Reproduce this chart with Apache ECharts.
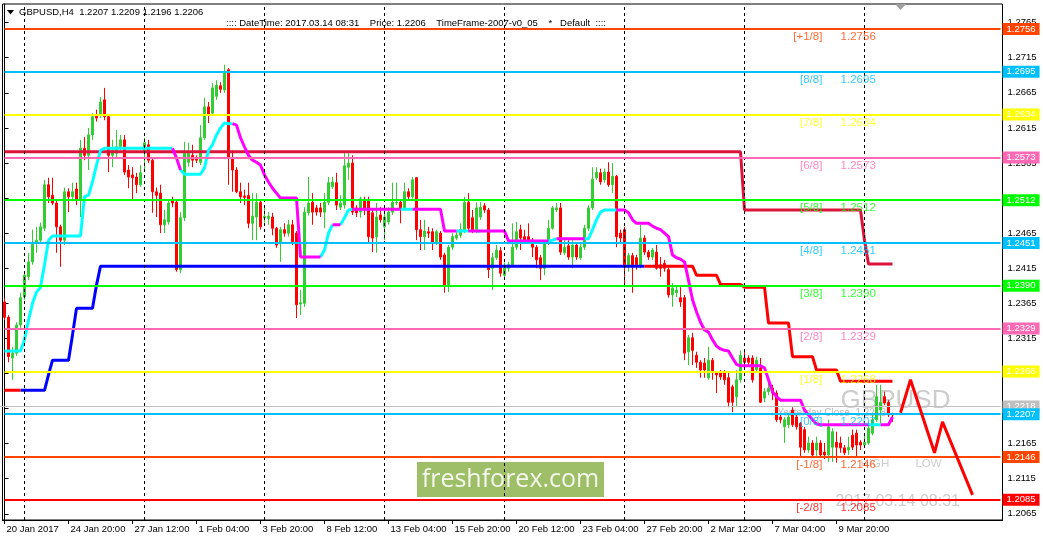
<!DOCTYPE html>
<html><head><meta charset="utf-8">
<script src="https://cdn.jsdelivr.net/npm/echarts@6/dist/echarts.min.js"></script>
<style>html,body{margin:0;padding:0;background:#fff}#c{width:1043px;height:542px}</style>
</head><body><div id="c"></div>
<script>
// ---------- candles (H4, from 20 Jan 2017 04:00) ----------
const opens=[1.2367,1.2345,1.2287,1.2294,1.2334,1.2374,1.2403,1.2424,1.2451,1.2455,
1.2472,1.2534,1.2519,1.2508,1.2474,1.2455,1.2524,1.2517,1.2528,1.2512,
1.2586,1.2576,1.2605,1.2633,1.2633,1.2655,1.2631,1.2576,1.2579,1.2588,
1.2598,1.2555,1.2548,1.2545,1.2534,1.2581,1.2591,1.2569,1.2524,1.2522,
1.2477,1.2481,1.2512,1.2509,1.2413,1.2487,1.2566,1.2576,1.2573,1.2566,
1.2601,1.2645,1.2636,1.2660,1.2675,1.2669,1.2698,1.2572,1.2555,1.2524,
1.2518,1.2519,1.2479,1.2488,1.2509,1.2487,1.2486,1.2488,1.2472,1.2451,
1.2470,1.2465,1.2477,1.2465,1.2364,1.2365,1.2494,1.2509,1.2501,1.2501,
1.2495,1.2509,1.2531,1.2537,1.2502,1.2505,1.2559,1.2565,1.2501,1.2495,
1.2512,1.2512,1.2494,1.2460,1.2491,1.2474,1.2481,1.2495,1.2508,1.2509,
1.2501,1.2524,1.2517,1.2544,1.2470,1.2460,1.2467,1.2467,1.2452,1.2465,
1.2434,1.2391,1.2445,1.2458,1.2462,1.2470,1.2509,1.2487,1.2470,1.2488,
1.2504,1.2498,1.2415,1.2430,1.2440,1.2405,1.2415,1.2420,1.2445,1.2470,
1.2460,1.2460,1.2455,1.2445,1.2430,1.2415,1.2451,1.2472,1.2498,1.2501,
1.2437,1.2447,1.2431,1.2448,1.2430,1.2445,1.2472,1.2501,1.2544,1.2551,
1.2541,1.2552,1.2534,1.2546,1.2465,1.2470,1.2420,1.2433,1.2430,1.2420,
1.2458,1.2438,1.2431,1.2438,1.2420,1.2422,1.2413,1.2377,1.2380,1.2373,
1.2373,1.2296,1.2316,1.2291,1.2281,1.2280,1.2259,1.2284,1.2266,1.2266,
1.2266,1.2259,1.2246,1.2232,1.2256,1.2287,1.2287,1.2287,1.2270,1.2273,
1.2230,1.2239,1.2244,1.2237,1.2203,1.2189,1.2192,1.2213,1.2203,1.2194,
1.2185,1.2156,1.2166,1.2156,1.2166,1.2153,1.2149,1.2160,1.2167,1.2166,
1.2159,1.2156,1.2177,1.2180,1.2167,1.2163,1.2166,1.2180,1.2199,1.2213,
1.2232,1.2224,1.2207];
const closes=[1.2345,1.2289,1.2294,1.2334,1.2373,1.2405,1.2424,1.2451,1.2455,1.2474,
1.2534,1.2517,1.2508,1.2474,1.2455,1.2524,1.2517,1.2524,1.2512,1.2586,
1.2576,1.2605,1.2631,1.2629,1.2652,1.2631,1.2576,1.2583,1.2588,1.2598,
1.2552,1.2545,1.2544,1.2534,1.2551,1.2594,1.2569,1.2524,1.2519,1.2477,
1.2484,1.2508,1.2508,1.2413,1.2487,1.2579,1.2579,1.2569,1.2569,1.2601,
1.2645,1.2633,1.2672,1.2676,1.2670,1.2695,1.2572,1.2555,1.2524,1.2517,
1.2516,1.2479,1.2489,1.2509,1.2474,1.2489,1.2489,1.2472,1.2448,1.2470,
1.2465,1.2477,1.2451,1.2363,1.2366,1.2495,1.2508,1.2495,1.2495,1.2495,
1.2509,1.2537,1.2538,1.2505,1.2508,1.2561,1.2565,1.2495,1.2494,1.2514,
1.2498,1.2460,1.2458,1.2488,1.2484,1.2488,1.2495,1.2509,1.2509,1.2501,
1.2524,1.2517,1.2541,1.2470,1.2460,1.2468,1.2465,1.2452,1.2467,1.2431,
1.2391,1.2445,1.2460,1.2462,1.2470,1.2509,1.2472,1.2470,1.2501,1.2502,
1.2498,1.2413,1.2430,1.2441,1.2408,1.2415,1.2420,1.2445,1.2467,1.2458,
1.2455,1.2455,1.2445,1.2427,1.2415,1.2451,1.2472,1.2501,1.2501,1.2438,
1.2445,1.2431,1.2448,1.2431,1.2445,1.2472,1.2501,1.2542,1.2552,1.2538,
1.2552,1.2534,1.2546,1.2460,1.2458,1.2420,1.2433,1.2420,1.2420,1.2458,
1.2438,1.2431,1.2441,1.2415,1.2415,1.2415,1.2377,1.2387,1.2384,1.2367,
1.2294,1.2316,1.2298,1.2281,1.2270,1.2270,1.2284,1.2266,1.2263,1.2260,
1.2256,1.2224,1.2224,1.2256,1.2291,1.2281,1.2281,1.2256,1.2284,1.2224,
1.2239,1.2244,1.2237,1.2199,1.2199,1.2199,1.2203,1.2192,1.2189,1.2160,
1.2156,1.2166,1.2149,1.2166,1.2149,1.2149,1.2189,1.2182,1.2160,1.2159,
1.2152,1.2160,1.2160,1.2163,1.2163,1.2167,1.2187,1.2199,1.2232,1.2224,
1.2223,1.2206,1.2206];
const lows=[1.2341,1.2281,1.2256,1.2290,1.2330,1.2370,1.2398,1.2420,1.2437,1.2450,
1.2468,1.2508,1.2505,1.2437,1.2417,1.2448,1.2495,1.2512,1.2505,1.2488,
1.2569,1.2555,1.2598,1.2624,1.2629,1.2626,1.2552,1.2559,1.2572,1.2583,
1.2548,1.2529,1.2512,1.2522,1.2531,1.2555,1.2565,1.2494,1.2488,1.2465,
1.2465,1.2477,1.2502,1.2410,1.2408,1.2482,1.2560,1.2559,1.2565,1.2562,
1.2598,1.2622,1.2633,1.2655,1.2665,1.2665,1.2534,1.2524,1.2522,1.2508,
1.2505,1.2472,1.2455,1.2455,1.2470,1.2480,1.2477,1.2462,1.2444,1.2424,
1.2460,1.2460,1.2448,1.2344,1.2348,1.2360,1.2490,1.2477,1.2490,1.2488,
1.2472,1.2505,1.2528,1.2498,1.2498,1.2500,1.2541,1.2491,1.2488,1.2487,
1.2491,1.2451,1.2438,1.2437,1.2480,1.2455,1.2477,1.2491,1.2505,1.2479,
1.2498,1.2512,1.2514,1.2455,1.2441,1.2441,1.2458,1.2441,1.2448,1.2427,
1.2380,1.2381,1.2441,1.2455,1.2458,1.2465,1.2467,1.2465,1.2465,1.2484,
1.2494,1.2401,1.2384,1.2427,1.2403,1.2401,1.2410,1.2417,1.2441,1.2441,
1.2451,1.2451,1.2431,1.2415,1.2398,1.2405,1.2448,1.2470,1.2495,1.2434,
1.2434,1.2427,1.2415,1.2427,1.2427,1.2441,1.2468,1.2498,1.2541,1.2534,
1.2537,1.2531,1.2522,1.2445,1.2451,1.2388,1.2410,1.2380,1.2413,1.2415,
1.2434,1.2427,1.2427,1.2413,1.2403,1.2410,1.2373,1.2360,1.2374,1.2360,
1.2284,1.2277,1.2277,1.2273,1.2259,1.2259,1.2256,1.2256,1.2237,1.2256,
1.2249,1.2217,1.2210,1.2217,1.2252,1.2277,1.2277,1.2252,1.2266,1.2223,
1.2224,1.2234,1.2227,1.2196,1.2194,1.2166,1.2187,1.2189,1.2185,1.2145,
1.2152,1.2152,1.2145,1.2146,1.2145,1.2143,1.2139,1.2139,1.2138,1.2152,
1.2149,1.2149,1.2156,1.2146,1.2156,1.2160,1.2163,1.2177,1.2196,1.2194,
1.2220,1.2203,1.2196];
const highs=[1.2372,1.2348,1.2303,1.2338,1.2380,1.2410,1.2437,1.2470,1.2474,1.2480,
1.2541,1.2544,1.2544,1.2512,1.2477,1.2530,1.2529,1.2537,1.2537,1.2598,
1.2602,1.2615,1.2636,1.2641,1.2659,1.2672,1.2634,1.2598,1.2612,1.2605,
1.2605,1.2562,1.2559,1.2551,1.2562,1.2601,1.2598,1.2572,1.2530,1.2534,
1.2498,1.2512,1.2517,1.2512,1.2495,1.2595,1.2594,1.2591,1.2576,1.2619,
1.2658,1.2652,1.2679,1.2683,1.2680,1.2705,1.2700,1.2583,1.2559,1.2537,
1.2527,1.2537,1.2522,1.2522,1.2512,1.2502,1.2495,1.2494,1.2474,1.2474,
1.2479,1.2484,1.2484,1.2468,1.2384,1.2502,1.2545,1.2522,1.2505,1.2508,
1.2522,1.2545,1.2545,1.2551,1.2519,1.2579,1.2579,1.2576,1.2505,1.2517,
1.2517,1.2517,1.2498,1.2508,1.2502,1.2505,1.2502,1.2537,1.2537,1.2512,
1.2537,1.2529,1.2545,1.2545,1.2484,1.2484,1.2474,1.2472,1.2470,1.2468,
1.2437,1.2448,1.2465,1.2467,1.2479,1.2517,1.2522,1.2498,1.2509,1.2509,
1.2508,1.2501,1.2437,1.2448,1.2445,1.2423,1.2424,1.2479,1.2481,1.2477,
1.2470,1.2479,1.2458,1.2448,1.2434,1.2455,1.2484,1.2504,1.2508,1.2508,
1.2455,1.2455,1.2455,1.2452,1.2452,1.2477,1.2505,1.2559,1.2559,1.2557,
1.2557,1.2566,1.2565,1.2548,1.2470,1.2474,1.2437,1.2437,1.2434,1.2477,
1.2462,1.2441,1.2444,1.2448,1.2431,1.2427,1.2417,1.2394,1.2391,1.2388,
1.2377,1.2320,1.2323,1.2296,1.2284,1.2287,1.2303,1.2287,1.2267,1.2270,
1.2270,1.2266,1.2249,1.2270,1.2298,1.2296,1.2291,1.2291,1.2289,1.2287,
1.2244,1.2252,1.2249,1.2241,1.2206,1.2203,1.2206,1.2217,1.2206,1.2196,
1.2189,1.2175,1.2170,1.2175,1.2170,1.2166,1.2199,1.2187,1.2182,1.2175,
1.2163,1.2175,1.2185,1.2185,1.2170,1.2177,1.2196,1.2206,1.2249,1.2249,
1.2239,1.2227,1.2209];

// ---------- indicator lines, as runs [fromBar, toBar, price, colourFlag] ----------
// trend line: flag 1 = cyan (rising), 0 = magenta
const trendRuns=[[0,4,1.2297,1],[5,5,1.2313,1],[6,6,1.2341,1],[7,7,1.2365,1],[8,8,1.2381,1],[9,9,1.2388,1],
[10,10,1.2420,1],[11,11,1.2455,1],[12,19,1.2461,1],[20,20,1.2517,1],[21,21,1.2519,1],[22,22,1.2538,1],
[23,23,1.2562,1],[24,24,1.2583,1],[25,42,1.2586,1],[43,43,1.2572,0],[44,44,1.2555,0],[45,49,1.2549,1],
[50,50,1.2558,1],[51,51,1.2583,1],[52,52,1.2591,1],[53,53,1.2605,1],[54,54,1.2615,1],[55,55,1.2622,1],
[56,57,1.2621,1],[58,58,1.2619,0],[59,59,1.2601,0],[60,60,1.2588,0],[61,61,1.2576,0],[62,62,1.2569,0],
[63,63,1.2566,0],[64,64,1.2562,0],[65,65,1.2548,0],[66,66,1.2538,0],[67,67,1.2529,0],[68,68,1.2522,0],
[69,73,1.2515,0],[74,79,1.2431,0],[80,80,1.2441,1],[81,81,1.2465,1],[82,82,1.2477,1],[83,84,1.2477,0],
[85,85,1.2487,1],[86,86,1.2498,1],[87,87,1.2499,1],[88,99,1.2499,0],[100,102,1.2499,1],[103,109,1.2499,0],
[110,113,1.2468,0],[114,116,1.2468,1],[117,118,1.2468,0],[119,119,1.2468,1],[120,125,1.2468,0],
[126,136,1.2454,0],[137,137,1.2455,1],[138,138,1.2457,1],[139,145,1.2457,0],[146,146,1.2457,1],
[147,147,1.2470,1],[148,148,1.2484,1],[149,149,1.2495,1],[150,153,1.2498,1],[154,155,1.2498,0],
[156,156,1.2494,0],[157,157,1.2484,0],[158,161,1.2479,0],[162,162,1.2475,0],[163,163,1.2472,0],
[164,164,1.2470,0],[165,165,1.2465,0],[166,166,1.2460,0],[167,167,1.2434,0],[168,168,1.2430,0],
[169,169,1.2428,0],[170,170,1.2424,0],[171,171,1.2398,0],[172,172,1.2370,0],[173,173,1.2353,0],
[174,174,1.2338,0],[175,175,1.2327,0],[176,176,1.2324,0],[177,177,1.2313,0],[178,178,1.2304,0],
[179,179,1.2300,0],[180,180,1.2298,0],[181,181,1.2297,0],[182,182,1.2287,0],[183,183,1.2278,0],
[184,189,1.2276,0],[190,190,1.2273,0],[191,191,1.2256,0],[192,192,1.2239,0],[193,193,1.2232,0],
[194,199,1.2227,0],[200,200,1.2213,0],[201,201,1.2206,0],[202,202,1.2199,0],[203,203,1.2193,0],
[204,216,1.2192,0],[217,219,1.2192,1],[220,221,1.2192,0],[222,222,1.2203,0]];
// support step line: flag 1 = blue, 0 = red
const supportRuns=[[0,4,1.2241,0],[5,10,1.2241,1],[11,11,1.2263,1],[12,16,1.2284,1],[17,17,1.2320,1],
[18,22,1.2358,1],[23,23,1.2391,1],[24,160,1.2418,1],[161,172,1.2418,0],[173,178,1.2405,0],
[179,184,1.2392,0],[185,190,1.2388,0],[191,196,1.2337,0],[197,202,1.2289,0],[203,208,1.2270,0],
[209,222,1.2254,0]];
// resistance step line (crimson)
const resistRuns=[[0,184,1.2581],[185,214,1.2498],[215,215,1.2455],[216,222,1.2421]];

// ---------- levels ----------
const mmLevels=[1.2756,1.2695,1.2634,1.2573,1.2512,1.2451,1.2390,1.2329,1.2268,1.2207,1.2146,1.2085];
const mmNames=['[+1/8]','[8/8]','[7/8]','[6/8]','[5/8]','[4/8]','[3/8]','[2/8]','[1/8]','[0/8]','[-1/8]','[-2/8]'];
const mmColors=['#FF4500','#00BFFF','#FFFF00','#FF69B4','#00FF00','#00BFFF','#00FF00','#FF69B4','#FFFF00','#00BFFF','#FF4500','#FF0000'];
const yesterdayClose=1.2218;
const priceTicks=[1.2065,1.2115,1.2165,1.2215,1.2265,1.2315,1.2365,1.2415,1.2465,1.2515,1.2565,1.2615,1.2665,1.2715,1.2765];
const separatorBars=[5,35,65,95,125,155,185,215];
// forecast zigzag (bar position, price)
const zigX=[224,226.5,232.5,234.5,242];
const zigY=[1.2209,1.2256,1.2152,1.2196,1.2092];

// ---------- categories ----------
const MON=['Jan','Feb','Mar','Apr'];
const pad=n=>(n<10?'0':'')+n;
const categories=[];
(function(){
  let t=Date.UTC(2017,0,20,4);
  while(categories.length<250){
    const d=new Date(t), wd=d.getUTCDay();
    if(wd!==0&&wd!==6){
      categories.push(categories.length===0 ? d.getUTCDate()+' '+MON[d.getUTCMonth()]+' '+d.getUTCFullYear()
        : d.getUTCDate()+' '+MON[d.getUTCMonth()]+' '+pad(d.getUTCHours())+':00');
    }
    t+=4*3600*1000;
  }
})();

const N=opens.length;
function expand(runs){const v=new Array(N).fill('-'),f=new Array(N).fill(0);
  runs.forEach(r=>{for(let i=r[0];i<=r[1];i++){v[i]=r[2];f[i]=r[3];}});return {v,f};}
function split(obj,flag){const out=[];for(let i=0;i<N;i++){
  out.push((obj.f[i]===flag||(i+1<N&&obj.f[i+1]===flag))?obj.v[i]:'-');}return out;}
const trend=expand(trendRuns), sup=expand(supportRuns), res=expand(resistRuns);

const FONT='Liberation Sans';
const labelInt=(i)=>i%16===0&&i<=208;

const bgTexts=[
 {x:208.9,y:1.2226,t:'GBPUSD',s:26,c:'#C0C0C0'},
 {x:213.9,y:1.2136,t:'HIGH',s:11.5,c:'#C0C0C0'},
 {x:227.6,y:1.2136,t:'LOW',s:11.5,c:'#C0C0C0'},
 {x:207.6,y:1.2083,t:'2017.03.14 08:31',s:16,c:'#C0C0C0'},
 {x:193.1,y:1.2209,t:'Yesterday Close  1.2218',s:10,c:'#A9A9A9'}
];
const mmTextData=[];
mmLevels.forEach((v,k)=>{
  mmTextData.push({value:[204.6,v],label:{show:true,formatter:mmNames[k],position:'left',distance:0,offset:[0,8],color:mmColors[k],fontSize:11.5,fontFamily:FONT}});
  mmTextData.push({value:[208.9,v],label:{show:true,formatter:v.toFixed(4),position:'right',distance:0,offset:[0,8],color:mmColors[k],fontSize:11.5,fontFamily:FONT}});
});

const lineS=(name,data,color,z)=>({type:'line',name,data,xAxisIndex:0,yAxisIndex:0,symbol:'none',showSymbol:false,
  silent:true,z:z||4,lineStyle:{color,width:3},itemStyle:{color},connectNulls:false});

// horizontal levels: each one is a two-point markLine from the first to the last category
const lvlLabel=(v,c)=>({show:true,position:'end',distance:2,formatter:v.toFixed(4),backgroundColor:c,color:'#fff',
  padding:[1,4,0,4],fontSize:9.5,lineHeight:11,fontFamily:FONT});
const mmMarks=[[{coord:[0,yesterdayClose],x:'0%'},{coord:[249,yesterdayClose],lineStyle:{color:'#C0C0C0',width:1,type:'solid'},label:lvlLabel(yesterdayClose,'#C0C0C0')}]];
mmLevels.forEach((v,k)=>mmMarks.push([{coord:[0,v]},{coord:[249,v],lineStyle:{color:mmColors[k],width:2,type:'solid'},label:lvlLabel(v,mmColors[k])}]));

const chart=echarts.init(document.getElementById('c'),null,{renderer:'canvas'});
chart.setOption({
  animation:false,
  backgroundColor:'#fff',
  textStyle:{fontFamily:FONT},
  grid:{left:2.5,right:40.5,top:4,bottom:22,show:true,borderColor:'#000',borderWidth:1,backgroundColor:'transparent'},
  xAxis:[{type:'category',data:categories,boundaryGap:true,
      axisLine:{show:true,lineStyle:{color:'#000',width:1}},
      axisTick:{show:true,interval:labelInt,alignWithLabel:true,length:4,lineStyle:{color:'#000'}},
      axisLabel:{interval:labelInt,align:'left',margin:4,padding:[0,0,0,2],fontSize:9.5,color:'#000',fontFamily:FONT},
      splitLine:{show:false}},
    {type:'value',min:-0.5,max:249.5,show:false}],
  yAxis:[{type:'value',position:'right',min:1.20562,max:1.27916,scale:true,
      axisLine:{show:true,lineStyle:{color:'#000'}},
      axisTick:{show:true,length:4,customValues:priceTicks,lineStyle:{color:'#000'}},
      axisLabel:{show:true,customValues:priceTicks,formatter:v=>Number(v).toFixed(4),margin:5,fontSize:9.5,color:'#000',fontFamily:FONT},
      splitLine:{show:false}}],
  graphic:[
    {type:'polygon',z:10,shape:{points:[[7,10],[14,10],[10.5,14.5]]},style:{fill:'#000'}},
    {type:'text',z:10,x:19,y:12.5,style:{text:'GBPUSD,H4  1.2207 1.2209 1.2196 1.2206',fill:'#000',font:'9.5px "Liberation Sans"',verticalAlign:'middle'}},
    {type:'text',z:10,x:226,y:23.5,style:{text:':::: DateTime: 2017.03.14 08:31    Price: 1.2206    TimeFrame-2007-v0_05    *   Default  ::::',fill:'#000',font:'9.5px "Liberation Sans"',verticalAlign:'middle'}},
    {type:'polygon',z:10,shape:{points:[[895,4],[906,4],[900.5,10]]},style:{fill:'#A0A0A0'}},
    {type:'rect',z:1,shape:{x:417,y:462,width:187,height:35},style:{fill:'#9FBE68'}},
    {type:'text',z:1,x:510.5,y:480,style:{text:'freshforex.com',fill:'#F3F7EC',font:'25px "Open Sans"',align:'center',verticalAlign:'middle'}}
  ],
  series:[
    {type:'scatter',xAxisIndex:1,yAxisIndex:0,z:1,silent:true,symbolSize:1,itemStyle:{color:'rgba(0,0,0,0)'},
      data:bgTexts.map(o=>({value:[o.x,o.y],label:{show:true,formatter:o.t,position:'right',distance:0,color:o.c,fontSize:o.s,fontFamily:FONT}}))},
    {type:'candlestick',xAxisIndex:0,yAxisIndex:0,z:2,barWidth:2,silent:true,
      data:opens.map((o,i)=>[o,closes[i],lows[i],highs[i]]),
      itemStyle:{color:'#32CD32',color0:'#FF0000',borderColor:'#32CD32',borderColor0:'#FF0000',borderWidth:1},
      markLine:{silent:true,symbol:['none','none'],label:{show:false},
        lineStyle:{color:'#000',type:[3,3],width:1},
        data:separatorBars.map(b=>({xAxis:b}))}},
    {type:'line',xAxisIndex:0,yAxisIndex:0,z:3,data:categories.map(()=>'-'),silent:true,symbol:'none',
      markLine:{silent:true,symbol:['none','none'],precision:4,data:mmMarks}},
    lineS('resist',res.v,'#DC143C',4),
    lineS('supBlue',split(sup,1),'#0000FF',4),
    lineS('supRed',split(sup,0),'#FF0000',4),
    lineS('trendCyan',split(trend,1),'#00FFFF',4),
    lineS('trendMag',split(trend,0),'#FF00FF',4),
    {type:'line',xAxisIndex:1,yAxisIndex:0,z:5,symbol:'none',silent:true,
      data:zigX.map((x,i)=>[x,zigY[i]]),lineStyle:{color:'#FF0000',width:3}},
    {type:'scatter',xAxisIndex:1,yAxisIndex:0,z:6,silent:true,symbolSize:1,itemStyle:{color:'rgba(0,0,0,0)'},data:mmTextData}
  ]
});
</script></body></html>
